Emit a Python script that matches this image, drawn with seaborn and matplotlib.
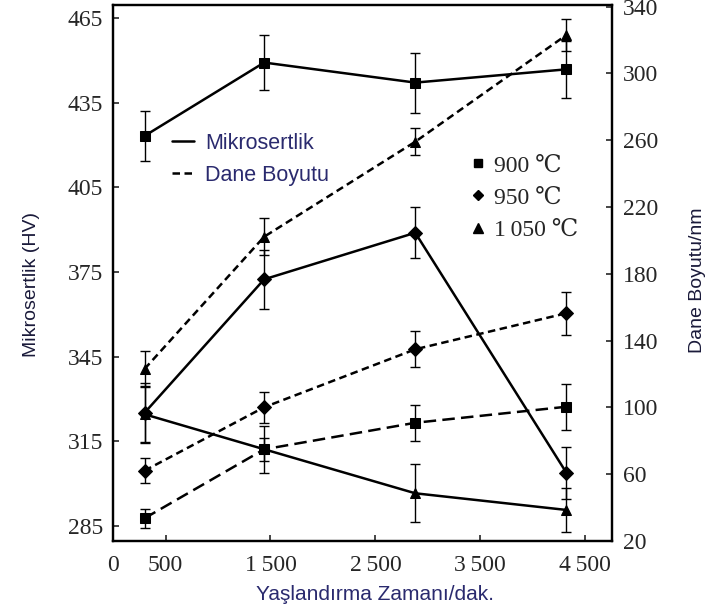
import matplotlib
matplotlib.use("Agg")
import matplotlib.pyplot as plt
from matplotlib.lines import Line2D
import numpy as np
import pandas as pd
import seaborn as sns

# ---------------- data ----------------
time_min = [300, 1440, 2880, 4320]
temps = ["900 \u2103", "950 \u2103", "1\u2009050 \u2103"]

hard_900 = [423.2, 449.2, 442.1, 446.8]
hard_950 = [325.1, 372.4, 388.9, 303.9]
hard_1050 = [324.6, 312.2, 296.6, 290.7]
hard_err_900 = [9.0, 9.9, 10.6, 10.1]
hard_err_950 = [10.6, 10.5, 9.0, 9.2]
hard_err_1050 = [10.0, 8.3, 10.3, 7.8]

grain_900 = [33.6, 74.9, 90.8, 100.4]
grain_950 = [62.1, 100.1, 134.8, 156.4]
grain_1050 = [123.0, 202.2, 259.1, 323.0]
grain_err_900 = [5.7, 7.0, 10.7, 13.7]
grain_err_950 = [7.5, 9.3, 10.7, 13.0]
grain_err_1050 = [10.8, 11.0, 8.0, 9.4]

x_ticks = [0, 500, 1500, 2500, 3500, 4500]
x_ticklabels = ["0", "500", "1\u2009500", "2\u2009500", "3\u2009500", "4\u2009500"]
left_ticks = [285, 315, 345, 375, 405, 435, 465]
right_ticks = [20, 60, 100, 140, 180, 220, 260, 300, 340]

# ---------------- frame ----------------
rows = []
for t, h, he, g, ge in zip(temps,
                           [hard_900, hard_950, hard_1050],
                           [hard_err_900, hard_err_950, hard_err_1050],
                           [grain_900, grain_950, grain_1050],
                           [grain_err_900, grain_err_950, grain_err_1050]):
    for i, tm in enumerate(time_min):
        rows.append({"time": tm, "temp": t, "hard": h[i], "hard_err": he[i],
                     "grain": g[i], "grain_err": ge[i]})
df = pd.DataFrame(rows)

sns.set_style("ticks")
serif = ["Liberation Serif", "DejaVu Serif", "DejaVu Sans", "Noto Sans CJK SC"]
sans = ["Liberation Sans", "DejaVu Sans"]
plt.rcParams["font.family"] = serif
plt.rcParams["axes.linewidth"] = 1.5

fig = plt.figure(figsize=(7.1, 6.14), dpi=100)
ax = fig.add_axes([0.1592, 0.1189, 0.7028, 0.873])
ax2 = ax.twinx()

markers = {temps[0]: "s", temps[1]: "D", temps[2]: "^"}
msize = {temps[0]: 6.5, temps[1]: 6.0, temps[2]: 7.5}

sns.lineplot(data=df, x="time", y="hard", style="temp", style_order=temps,
             markers=markers, dashes=False, color="black", lw=1.8,
             markersize=7.5, markeredgecolor="black", ax=ax, legend=False,
             errorbar=None, sort=False)

dash_map = {temps[0]: (5, 2.5), temps[1]: (3, 1.8), temps[2]: (3, 1.8)}
sns.lineplot(data=df, x="time", y="grain", style="temp", style_order=temps,
             markers=markers, dashes=dash_map, color="black", lw=1.8,
             markersize=7.5, markeredgecolor="black", ax=ax2, legend=False,
             errorbar=None, sort=False)

for t in temps:
    sub = df[df["temp"] == t]
    ax.errorbar(sub["time"], sub["hard"], yerr=sub["hard_err"], fmt="none",
                ecolor="black", elinewidth=1.0, capsize=3.5, capthick=1.0)
    ax2.errorbar(sub["time"], sub["grain"], yerr=sub["grain_err"], fmt="none",
                 ecolor="black", elinewidth=1.0, capsize=3.5, capthick=1.0)

# ---------------- axes ----------------
ax.set_xlim(0, 4755)
ax.set_ylim(279.7, 469.6)
ax2.set_ylim(20, 341)
ax.set_xticks(x_ticks)
ax.set_xticklabels(x_ticklabels)
ax.set_yticks(left_ticks)
ax2.set_yticks(right_ticks)

ax.tick_params(axis="both", direction="in", length=4, width=1.2,
               labelsize=17, pad=7)
ax.tick_params(axis="x", pad=10)
ax2.tick_params(axis="y", direction="in", length=4, width=1.2,
                labelsize=17, pad=8)
for a in (ax, ax2):
    for s in a.spines.values():
        s.set_visible(True)
        s.set_linewidth(1.6)
        s.set_color("black")

label_color = "#2a2a6e"
ax.set_xlabel("Yaşlandırma Zamanı/dak.", fontsize=15, family=sans,
              color=label_color)
ax.xaxis.set_label_coords(0.525, -0.082)
ax.set_ylabel("Mikrosertlik (HV)", fontsize=14, family=sans, color="#1a1a3a")
ax.yaxis.set_label_coords(-0.146, 0.478)
ax2.set_ylabel("Dane Boyutu/nm", fontsize=14, family=sans, color="#1a1a3a")
ax2.yaxis.set_label_coords(1.155, 0.487)

# ---------------- legends ----------------
style_handles = [Line2D([], [], color="black", lw=1.8),
                 Line2D([], [], color="black", lw=1.8, dashes=(3, 1.8))]
leg1 = fig.legend(style_handles, ["Mikrosertlik", "Dane Boyutu"],
                  loc="upper left", bbox_to_anchor=(172 / 710, 1 - 133 / 614),
                  frameon=False, prop={"family": sans, "size": 15.5},
                  handlelength=1.0, handletextpad=0.55, labelspacing=0.5,
                  borderpad=0, borderaxespad=0, labelcolor=label_color)

marker_handles = [Line2D([], [], color="black", lw=0, marker=markers[t],
                         markersize=msize[t] - 0.5) for t in temps]
leg2 = fig.legend(marker_handles, temps, loc="upper left",
                  bbox_to_anchor=(472 / 710, 1 - 155 / 614),
                  frameon=False, prop={"family": serif, "size": 17},
                  handlelength=0.5, handletextpad=0.45, labelspacing=0.45,
                  borderpad=0, borderaxespad=0)

fig.savefig("out.png", dpi=100)
